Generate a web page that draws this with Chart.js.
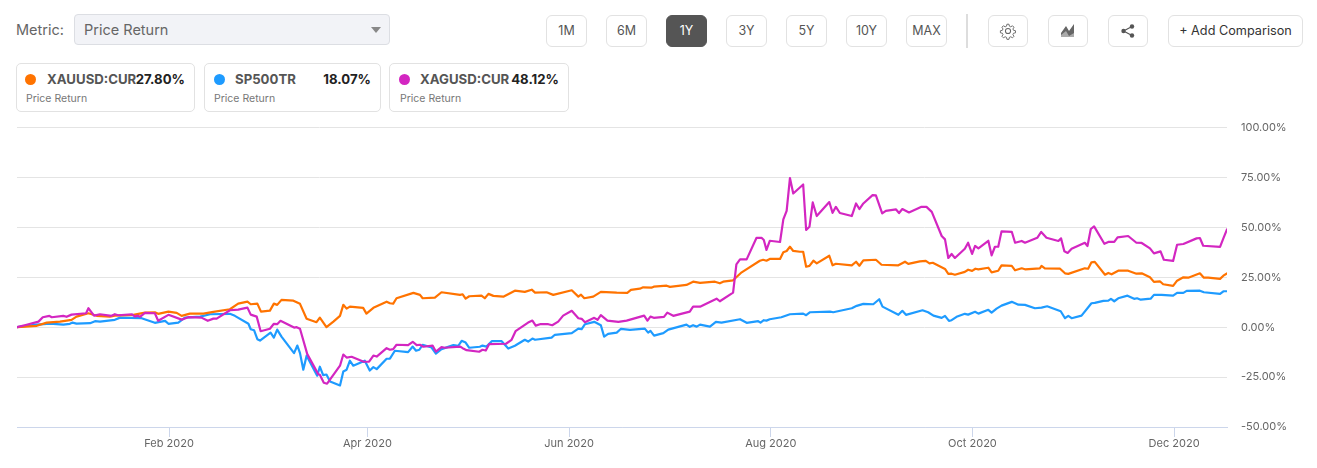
<!DOCTYPE html>
<html>
<head>
<meta charset="utf-8">
<title>Price Return</title>
<script src="https://cdn.jsdelivr.net/npm/chart.js@4"></script>
<style>
  html, body { margin: 0; padding: 0; background: #fff; }
  body { width: 1317px; height: 468px; position: relative; overflow: hidden; font-family: Inter, "Liberation Sans", sans-serif; color: #555; }
  .abs { position: absolute; box-sizing: border-box; }
  .metric { left: 16px; top: 20px; font-size: 14.5px; line-height: 20px; color: #666; }
  .select { left: 74px; top: 14px; width: 316px; height: 31px; background: #f2f3f7; border: 1px solid #dcdee3; border-radius: 4px; font-size: 14.5px; line-height: 29px; padding-left: 9px; color: #666; }
  .select:after { content: ""; position: absolute; right: 8px; top: 12px; border: 5px solid transparent; border-top: 6px solid #888; border-bottom: 0; }
  .btn { top: 15px; height: 32px; border: 1px solid #e2e2e2; border-radius: 6px; background: #fff; font-size: 12.5px; line-height: 30px; text-align: center; color: #555; }
  .btn.on { background: #555; border-color: #555; color: #fff; }
  .btn svg { display: block; margin: 6px auto 0; }
  .divider { left: 966px; top: 14px; width: 2px; height: 34px; background: #ddd; }
  .card { top: 63px; height: 49px; border: 1px solid #e2e2e2; border-radius: 5px; background: #fff; }
  .dot { position: absolute; top: 10px; width: 11px; height: 11px; border-radius: 50%; }
  .name { position: absolute; top: 8px; font-size: 13.2px; line-height: 15px; font-weight: 700; color: #555; }
  .val { position: absolute; top: 8px; font-size: 13.2px; line-height: 15px; font-weight: 700; color: #222; }
  .sub { position: absolute; top: 28px; font-size: 10.5px; line-height: 14px; color: #777; }
  #wrap { position: absolute; left: 0; top: 107px; width: 1317px; height: 361px; }
</style>
</head>
<body>
<div class="abs metric">Metric:</div>
<div class="abs select">Price Return</div>
<div id="ranges"></div>
<div class="abs divider"></div>
<div class="abs btn" style="left:988px;width:40px"><svg width="18" height="18" viewBox="0 0 16 16" fill="none" stroke="#666" stroke-width="0.9"><circle cx="8" cy="8" r="2.3"/><path d="M7 1.5h2l.4 1.9 1.3.6 1.7-1 1.4 1.4-1 1.7.6 1.3 1.9.4v2l-1.9.4-.6 1.3 1 1.7-1.4 1.4-1.7-1-1.3.6-.4 1.9H7l-.4-1.9-1.3-.6-1.7 1-1.4-1.4 1-1.7-.6-1.3-1.9-.4v-2l1.9-.4.6-1.3-1-1.7L3.6 3l1.7 1 1.3-.6z" transform="translate(.6 .6) scale(.92)"/></svg></div>
<div class="abs btn" style="left:1048px;width:40px"><svg width="18" height="18" viewBox="0 0 18 18"><path d="M2 15v-3L7 5l3 5 5-7v12z" fill="#aaa"/><path d="M2 11L7 4l3 5 5-7v9L10 14 7 9 2 13z" fill="#666"/></svg></div>
<div class="abs btn" style="left:1108px;width:40px"><svg width="16" height="18" viewBox="0 0 16 18" fill="#555"><circle cx="3.5" cy="9" r="2.2"/><circle cx="12" cy="4.5" r="2.2"/><circle cx="12" cy="13.5" r="2.2"/><path d="M3.5 9L12 4.5M3.5 9L12 13.5" stroke="#555" stroke-width="1.2"/></svg></div>
<div class="abs btn" style="left:1168px;width:135px;color:#333;font-size:12.7px">+ Add Comparison</div>
<div id="cards"></div>
<div id="wrap"><canvas id="chart"></canvas></div>

<script>
// x = days since 17 Dec 2019, y = price return in %
const tickDays = [46, 106, 167, 228, 289, 350];
const tickLabels = ['Feb 2020', 'Apr 2020', 'Jun 2020', 'Aug 2020', 'Oct 2020', 'Dec 2020'];
const yTicks = [-50, -25, 0, 25, 50, 75, 100];
const rangeLabels = ['1M', '6M', '1Y', '3Y', '5Y', '10Y', 'MAX'];
const seriesNames = ['XAUUSD:CUR', 'SP500TR', 'XAGUSD:CUR'];
const seriesReturns = ['27.80%', '18.07%', '48.12%'];
const metricName = 'Price Return';

const xauDays = [0,6,9,13,16.5,18,21.6,24.1,28.1,29.6,35.2,38.7,41.7,42.7,45.8,48.3,49.8,52.3,56.4,59.4,64.4,66.9,69.7,70.7,72.7,73.8,76.5,77.7,78.7,80,83.6,85.6,87.6,90.6,91.6,93.6,95.7,97.7,98.7,99.7,100.7,104.7,105.7,107.8,111.8,112.8,113.8,114.8,119.9,121.9,122.7,126.4,128.4,134,134.8,135.7,136.8,140.5,141.5,142.6,144.1,147.1,150.6,153.6,155.7,156.7,160.2,162.2,167.8,169.8,170.6,171.6,174.3,176.6,181.4,184.6,185.7,188.4,189.4,191.9,192.6,196.5,197.5,202.5,204.5,206.6,211.1,212.6,213.6,216.6,219.2,224.7,225.7,226.7,227.7,230.8,231.8,232.8,233.8,234.8,236.8,237.8,238.7,239.7,240.9,241.9,245.7,246.7,247.7,252.5,253.8,254.8,256,259.8,261.5,266.6,268.6,269.6,273.1,274.9,276,277,280.7,281.7,282.7,283.7,286.7,287.7,288.9,289.9,290.8,293.8,294.8,296.8,297.8,300.9,301.9,303.9,304.9,309.4,309.9,310.9,315.5,317,318,323,324,325,326,329.1,330.1,331.1,333.1,336.1,338.6,340.2,342.7,343.9,345.7,346.7,349.7,350.9,352.8,354.3,357.8,359,360.3,363.9,364.9,366];
const xauValues = [0,0.7,2.3,2.8,3.7,5.3,7,5.7,5.3,5.8,6.2,7.3,7.5,6.7,7.8,7.2,5.7,6.8,6.8,7.7,9,11.8,12.8,11.5,11.8,7.8,8.3,11.8,11.2,13.7,13.3,11.7,4.2,2.5,4.8,0,2.8,5.7,11.2,9.3,10.3,9.7,6.8,9.7,12.8,12,11.8,14.5,17.2,16.2,14.5,14.8,17.5,16.2,16.5,14.3,15.5,15.8,14.5,16.7,15.7,15.3,18.3,17.7,18.8,17.3,17.5,16.2,18.5,15.3,16.3,14.5,15.3,17.7,17.3,17.2,18.7,19.3,20,19.8,20.3,20.8,20.2,21.2,22.8,22.2,22.8,22,22.8,23.5,27.5,33.3,33.8,33.3,34.2,34.2,37.5,38.2,40.3,38.2,37.8,37.8,30.3,30.7,33.3,32,35.8,31,31.8,31,32.8,30.8,33.5,33.8,31.3,31,32.8,31.7,33,33.2,32,32.3,29.2,26.7,26.8,26.3,27.7,28.8,28.2,29.3,29,29.8,27.5,28.3,31,30.7,28.5,29.5,29,29.5,30.7,29.5,29.3,27,26.7,29.5,29.3,32.5,32.7,26.3,27.2,26.5,28.3,28.3,26.8,27,25,22.7,23,21.5,20.7,23.3,25,24.8,27,24.8,24.8,24.2,25.8,27];

const spxDays = [0,2.9,6,10,14,16,16.8,18,22.1,23.6,25.1,29.6,31.2,37.7,41.7,44.8,45.8,48.8,50.8,55.4,58.4,64.4,65.9,70,70.7,71.7,72.7,73.5,76.7,77.7,78.7,80,83.8,84.8,85.6,86.6,87.6,90.8,91.6,92.6,93.6,94.7,97.7,98.7,99.7,100.7,101.7,105.2,106.7,107.8,108.8,111.8,112.8,114.3,118.3,119.7,120.7,121.7,122.7,125.4,126.7,128.4,132,133.5,134.5,135.7,136.8,140,140.8,142,143.6,146.6,148.6,150.6,153.6,154.6,155.9,156.7,161.7,162.7,167.8,169.8,170.8,171.8,174.6,176.6,177.6,178.8,181.4,182.7,185.4,189.9,190.9,191.6,192.7,195.5,197,202.5,203.5,204.5,205.6,206.6,209.6,211.4,213.1,218.7,220.7,224.2,224.9,225.9,226.7,227.7,231.2,233.8,237.8,238.7,239.9,245.9,246.9,252.5,254,256,259,260.8,261.8,266.6,267.8,268.9,273.9,275.6,277.2,279.7,280.7,281.9,282.7,284.2,286.7,287.7,289.8,290.8,293.8,294.8,296.3,297.8,300.9,302.9,304.9,307.9,309.9,311.6,315.7,317,318,319,322,325,326,328.6,330.1,330.9,331.9,333.1,335.9,337.9,338.8,339.9,342.9,343.9,346.2,349.7,350.9,352.8,353.8,357.8,359,363.9,364.9,366];
const spxValues = [0,0.7,1.3,1.8,1.3,1.7,2.3,1.8,2,3,2.8,3.7,4.8,4.5,2.2,3.2,1.7,2.3,4.8,5.3,6.5,6.7,5.7,1.7,-1,-1.5,-6,-6.7,-2.7,-5.2,-1.2,-4.7,-13,-9.2,-13,-21.3,-14.3,-24.3,-19.8,-24,-23.7,-27.2,-29.2,-22.2,-21.3,-16.8,-19.3,-16.8,-21.7,-20,-21,-15.8,-15.7,-11.8,-12.5,-9.7,-11.8,-11.3,-8.8,-10.2,-13.2,-11,-9,-9.3,-6.8,-7.7,-10.3,-9.8,-9.2,-9.7,-7,-7,-10.7,-9.3,-6.3,-7.2,-5.7,-6.3,-5.2,-3.8,-3,-0.7,-1,1.5,2.7,1,-4.7,-3.3,-2.7,-0.8,-1.3,-0.7,-2.7,-1.8,-4.2,-3,-1.2,1.3,0.2,1,0.3,1.3,0.3,2.7,2.3,4,2.2,3,2.3,3.5,3.3,4,5,6.5,6.8,6,7.5,7.8,7.5,9.5,10.7,11.7,11.5,14,10.3,6.2,8.2,6.2,8.5,7.5,5.8,4.7,5.7,3.2,3.5,5.2,6.7,6.3,7.7,6.8,8.7,7.3,9.3,10.8,12.7,11.3,11.2,9.5,9.8,10.5,8,4.5,5.7,4.5,5.8,12,12.2,13.2,13.3,14.2,13,14.5,15.8,14.2,14.5,13.8,14.3,16.2,16.2,15.8,17.2,17.2,18.2,18.3,17.5,16.7,18,18];

const xagDays = [0,2.9,6.5,7.8,9.8,10.5,14,15,16.5,20.9,21.6,23.3,25.1,28.6,29.6,30.6,34.7,35.7,36.4,37.2,38.7,41.7,42.7,45.8,49.8,51.8,55.8,57.7,59.4,60.4,64.4,66.9,69.7,70.7,72.5,73.7,76.5,77.7,78.7,79.7,83.8,84.6,85.6,87.8,91.1,91.6,92.8,93.8,97.7,98.7,99.7,101.2,104.7,106.5,107.8,108.8,111.8,112.8,113.8,114.8,118.3,119.7,120.9,121.9,122.9,125.7,126.7,128.4,129.4,134,134.8,136,139.8,140.8,141.8,142.8,147.9,149.6,150.8,154.6,155.9,156.9,158.2,160.7,161.9,163.7,165.2,167.8,169.8,170.8,171.8,174.6,175.6,176.6,178.6,181.9,184.4,189.7,190.7,191.6,192.6,195.7,196.7,198.5,203.5,204.5,206.6,211.6,212.6,216.6,217.6,218.7,220.7,223.7,225.2,225.9,226.7,227.7,230.8,231.8,232.8,233.8,234.8,237.8,238.7,239.7,240.7,241.9,245.7,246.7,247.7,248.9,252.5,253.8,254.8,256,258.8,259.8,261.7,262.8,265.9,266.8,267.8,269.8,273.6,275.1,276.7,279.7,280.7,281.7,282.7,283.7,286.7,287.7,288.9,289.8,290.8,293.8,294.8,295.8,296.8,297.8,300.9,301.9,303.9,304.9,308.6,309.8,311.4,315,315.8,316.8,317.8,319,323,323.8,324.8,325.8,328.9,330.1,331.9,332.9,336.1,338.6,340.2,342.7,343.9,345.9,346.9,349.7,350.9,352.8,356.8,357.8,358.8,363.9,364.9,366];
const xagValues = [0,1.2,2.8,5,5.7,5,5.7,5.2,6.3,7,9.5,5.8,6.5,5.7,6.5,6,6.5,5.3,5.8,5.2,7.2,7,3.2,6.2,3.8,5,4.8,3.2,4.3,4.3,8.5,8.8,9.8,6.3,5.3,-2,-0.8,1.7,1.5,3.2,-0.2,0,-0.8,-13.5,-23.5,-23.8,-27.8,-28.3,-19.3,-13.7,-15.2,-14.8,-17.2,-17.3,-14.2,-14.7,-10.5,-11.3,-11,-8.8,-9,-7.3,-9,-8.8,-9.8,-9.2,-12.2,-10,-10.3,-9.7,-10.5,-11.5,-12.3,-11.3,-11.7,-8.5,-8.3,-6.3,-2,2.3,3.3,0.8,1.5,1.5,1,2.8,5.8,8.2,4.5,4.2,2.5,4.7,3.7,6,3.3,2.7,3.3,5.8,3.3,5.3,4.7,5.2,7.3,5.7,7.8,10.3,10.3,14.3,13,17.3,31.5,34,34,44.8,44.8,43.7,38.7,43.3,42.7,54,58.3,74.7,67,71.5,48.7,50.3,62.5,55.7,62.7,57.3,60.3,57.2,55.7,62,59.2,62,66.2,66,57,58.3,59,57.2,59.2,57.5,60.3,60.3,57.8,45.7,44,34.7,36.7,34.7,39.3,42.3,36.7,40.7,39.5,43.3,36,40.3,40.3,48,47.8,42.3,43.2,42.3,44.8,47.7,44.8,43.2,44.5,38,37.2,39.3,42.3,40.7,49.2,50.5,41.8,42.7,42.7,45,45.7,42.3,42.2,39.5,37,38,33.8,33.2,41.3,41.7,44.5,44.7,40.8,40.2,44.5,49];

const seriesColors = ['#ff7300', '#1e9bff', '#d326c1'];

// toolbar
const rangeLeft = [546, 606, 666, 726, 786, 846, 906];
const ranges = document.getElementById('ranges');
rangeLabels.forEach((label, i) => {
  const b = document.createElement('div');
  b.className = 'abs btn' + (label === '1Y' ? ' on' : '');
  b.style.left = rangeLeft[i] + 'px';
  b.style.width = '41px';
  b.textContent = label;
  ranges.appendChild(b);
});

// legend cards
const cardBoxes = [
  { left: 16, width: 179, dot: 8, name: 30, right: 9, sub: 9 },
  { left: 204, width: 177, dot: 9, name: 30, right: 9, sub: 9 },
  { left: 389, width: 180, dot: 9, name: 30, right: 9, sub: 10 }
];
const cards = document.getElementById('cards');
seriesNames.forEach((name, i) => {
  const box = cardBoxes[i];
  const c = document.createElement('div');
  c.className = 'abs card';
  c.style.left = box.left + 'px';
  c.style.width = box.width + 'px';
  c.innerHTML =
    '<span class="dot" style="left:' + box.dot + 'px;background:' + seriesColors[i] + '"></span>' +
    '<span class="name" style="left:' + box.name + 'px">' + name + '</span>' +
    '<span class="val" style="right:' + box.right + 'px">' + seriesReturns[i] + '</span>' +
    '<span class="sub" style="left:' + box.sub + 'px">' + metricName + '</span>';
  cards.appendChild(c);
});

function zip(days, values) {
  return days.map((d, i) => ({ x: d, y: values[i] }));
}

function lineSet(i, days, values, order) {
  return {
    label: seriesNames[i],
    data: zip(days, values),
    borderColor: seriesColors[i],
    borderWidth: 2.2,
    borderJoinStyle: 'round',
    borderCapStyle: 'round',
    pointRadius: 0,
    tension: 0,
    order: order
  };
}

new Chart(document.getElementById('chart'), {
  type: 'line',
  data: {
    datasets: [
      lineSet(0, xauDays, xauValues, 2),
      lineSet(1, spxDays, spxValues, 3),
      lineSet(2, xagDays, xagValues, 1)
    ]
  },
  options: {
    responsive: true,
    maintainAspectRatio: false,
    animation: false,
    layout: { padding: { left: 17, top: 7, right: 0, bottom: 0 } },
    plugins: { legend: { display: false }, tooltip: { enabled: false } },
    scales: {
      x: {
        type: 'linear',
        min: 0,
        max: 366,
        afterBuildTicks: (axis) => { axis.ticks = tickDays.map(v => ({ value: v })); },
        afterFit: (axis) => { axis.height = 41; },
        grid: { drawOnChartArea: false, color: '#ccd6eb', tickLength: 10, tickColor: '#ccd6eb' },
        border: { color: '#ccd6eb', width: 1 },
        ticks: {
          autoSkip: false,
          maxRotation: 0,
          padding: 0,
          color: '#666',
          font: { family: 'Inter, "Liberation Sans", sans-serif', size: 11 },
          callback: (v) => tickLabels[tickDays.indexOf(v)]
        }
      },
      y: {
        position: 'right',
        min: -50,
        max: 100,
        afterBuildTicks: (axis) => { axis.ticks = yTicks.map(v => ({ value: v })); },
        afterFit: (axis) => { axis.width = 90; },
        grid: { color: '#e4e4e4', drawTicks: false },
        border: { display: false },
        ticks: {
          padding: 14,
          color: '#666',
          font: { family: 'Inter, "Liberation Sans", sans-serif', size: 11 },
          callback: (v) => v.toFixed(2) + '%'
        }
      }
    }
  }
});
</script>
</body>
</html>
